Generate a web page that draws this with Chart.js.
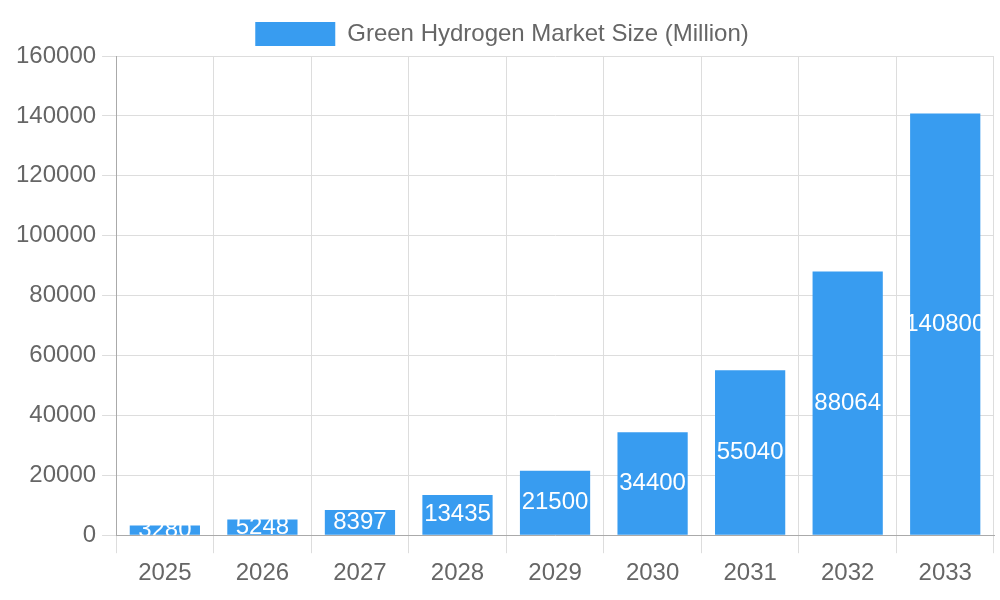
<!DOCTYPE html>
<html><head><script src="https://cdn.jsdelivr.net/npm/chart.js@4"></script>
<style>body{margin:0}#w{width:1000px;height:600px}</style></head>
<body><div id="w"><canvas id="c"></canvas></div>
<script>
const years = ['2025','2026','2027','2028','2029','2030','2031','2032','2033'];
const marketSize = [3280,5248,8397,13435,21500,34400,55040,88064,140800];
const seriesLabel = 'Green Hydrogen Market Size (Million)';
const F = "'Liberation Sans', Arial, sans-serif";
const labelPlugin = {id:'lbl', afterDatasetsDraw(ch){
  const ctx=ch.ctx; const meta=ch.getDatasetMeta(0); const a=ch.chartArea;
  ctx.save(); ctx.beginPath(); ctx.rect(a.left,a.top,a.right-a.left,a.bottom-a.top); ctx.clip();
  ctx.fillStyle='#fff'; ctx.font='24px '+F; ctx.textAlign='center'; ctx.textBaseline='middle';
  meta.data.forEach((b,i)=>{ctx.fillText(String(marketSize[i]), b.x, (b.y+b.base)/2);});
  ctx.restore();}};
new Chart(document.getElementById('c'),{type:'bar',
 data:{labels:years,datasets:[{label:seriesLabel,data:marketSize,backgroundColor:'#389cf0'}]},
 options:{responsive:true,maintainAspectRatio:false,animation:false,
  layout:{padding:{left:10,right:6,top:8,bottom:6}},
  plugins:{legend:{labels:{font:{size:24,family:F},color:'#666',boxWidth:80,boxHeight:24,padding:14}},tooltip:{enabled:false}},
  scales:{x:{ticks:{font:{size:24,family:F},color:'#666',padding:6},grid:{color:'#ddd',tickLength:18},border:{color:'#aaa'}},
          y:{min:0,max:160000,ticks:{stepSize:20000,font:{size:24,family:F},color:'#666',padding:6,callback:v=>String(v)},grid:{color:'#ddd',tickLength:14},border:{color:'#aaa'}}}},
 plugins:[labelPlugin]});
</script></body></html>
